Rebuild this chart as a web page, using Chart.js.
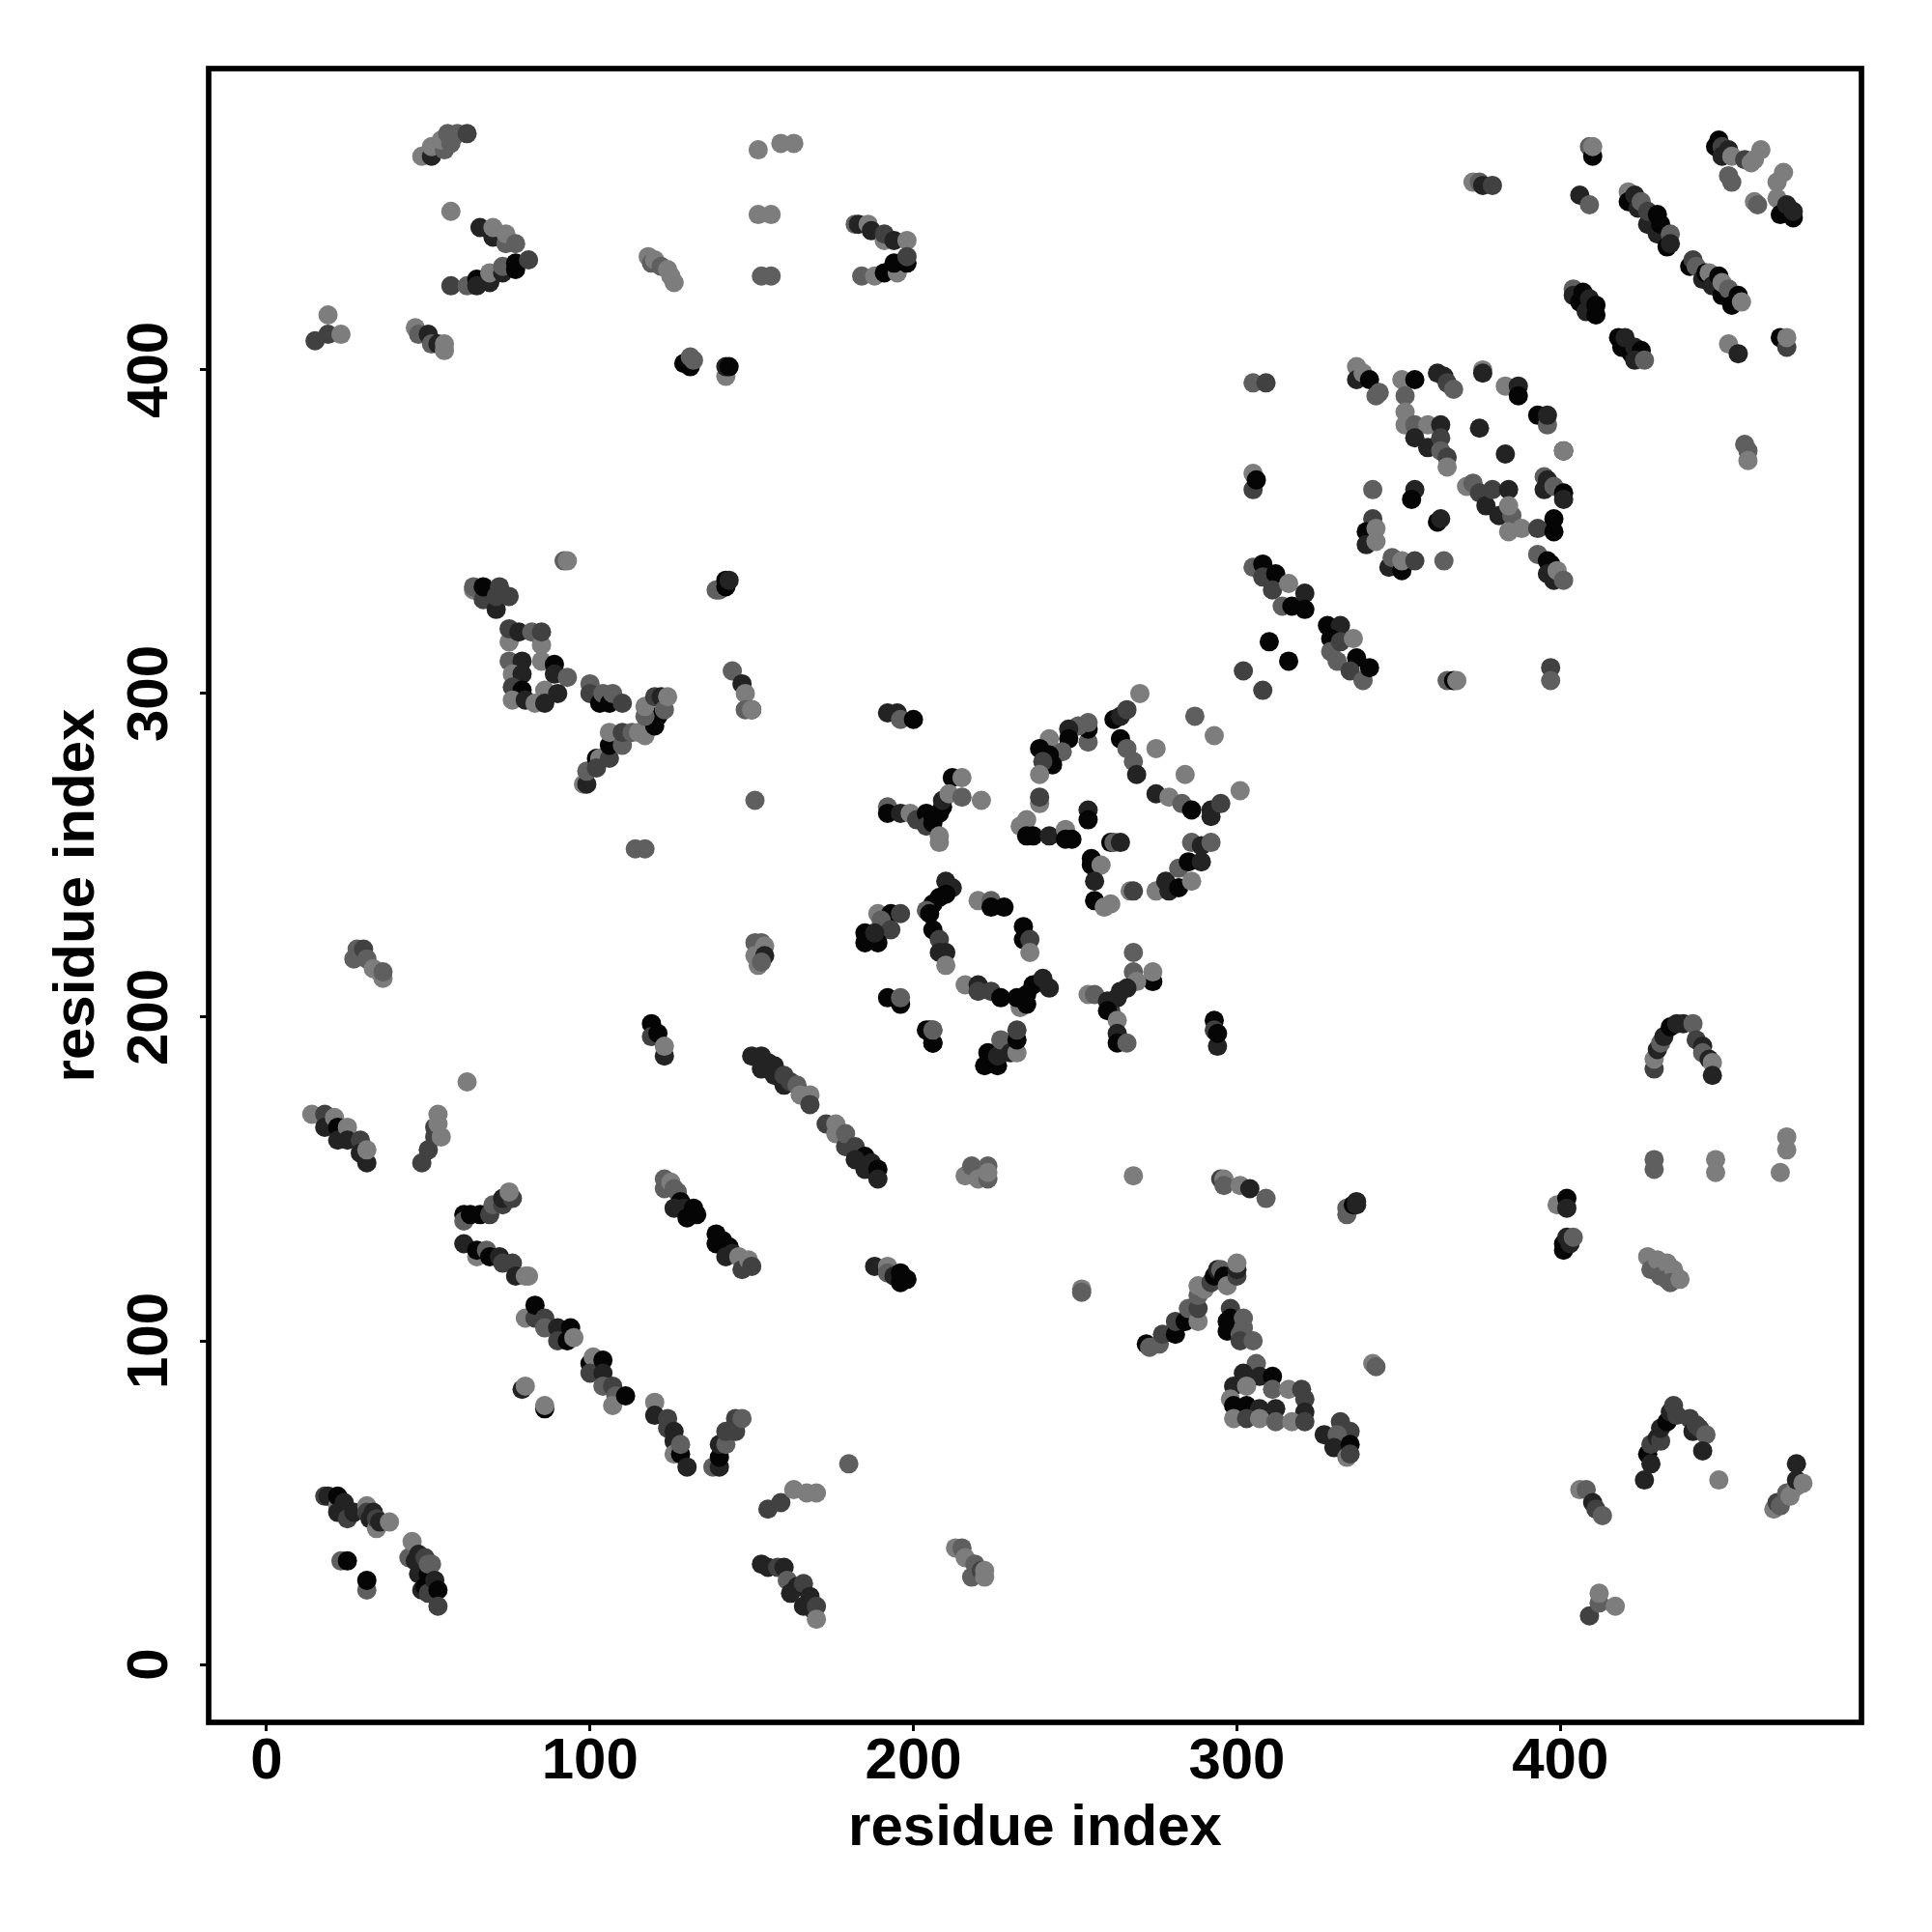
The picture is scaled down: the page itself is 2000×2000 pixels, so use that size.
<!DOCTYPE html>
<html>
<head>
<meta charset="utf-8">
<title>residue contacts</title>
<script src="https://cdn.jsdelivr.net/npm/chart.js@4"></script>
<style>
html, body { margin: 0; padding: 0; background: #fff; }
canvas { display: block; }
</style>
</head>
<body>
<canvas id="contactChart" width="2000" height="2000"></canvas>
<script>
// contacts are [residue x, residue y, level], level 0 (darkest) .. 4 (lightest)
const tickValues = [0, 100, 200, 300, 400];
const axisTitle = 'residue index';

// bottom row
const lowLeft = [[18,52,2],[19,52,1],[22,49,4],[22,52,0],[22,47,1],[24,50,1],[25,45,2],[27,47,1],[31,49,4],[31,47,2],[32,45,1],[33,47,1],[34,42,4],[34,45,2],[35,44,1],[38,44,4],
  [44,33,3],[45,38,4],[46,32,1],[47,34,1],[47,28,1],[48,23,1],[49,33,2],[49,24,0],[50,28,0],[50,22,2],[50,31,3],[51,31,3],[52,26,1],[53,23,0],[53,18,2],[23,32,3],[25,32,0],[31,23,3],[31,26,0]];
const lowMid = [[153,31,1],[155,30,1],[158,30,2],[160,30,1],[161,26,3],[162,22,1],[164,24,1],[166,25,2],[166,18,1],[168,21,1],[169,17,1],[170,18,2],[170,14,4],
  [155,48,2],[159,50,2],[163,54,4],[167,53,4],[170,53,4],[180,62,3],
  [213,36,4],[215,36,3],[216,33,4],[219,31,3],[218,27,3],[221,29,2],[222,27,4],[222,29,4]];
const lowRight = [[409,15,2],[412,19,3],[412,22,4],[417,18,4],[406,54,4],[408,54,3],[410,50,1],[411,48,2],[413,46,3],
  [426,57,1],[427,65,0],[428,62,1],[428,68,2],[430,70,1],[431,69,2],[431,73,1],[433,75,0],[434,78,1],[435,80,2],[436,77,2],[440,76,2],[441,72,1],[442,74,2],[443,73,2],[445,71,3],[444,66,1],[449,57,4],
  [466,48,4],[467,50,2],[468,49,3],[470,53,3],[471,52,4],[473,62,1],[473,55,4],[473,57,1],[475,56,4]];

// long strands running down from residue 60
const strandA = [[61,139,0],[61,137,3],[63,139,0],[66,139,0],[69,139,2],[70,142,3],[73,142,2],[73,144,1],[76,144,2],[75,146,4],
  [61,130,1],[65,126,4],[65,128,0],[68,128,3],[69,126,0],[72,126,1],[73,124,2],[76,124,2],[77,120,1],[80,120,4],[81,120,4],
  [80,107,4],[83,107,2],[83,111,0],[86,107,2],[86,104,3],[90,104,1],[90,100,2],[94,104,0],[93,100,0],[95,101,4],
  [100,93,0],[101,95,4],[100,90,2],[104,94,0],[104,90,1],[104,86,3],[107,86,2],[108,83,3],[107,80,4],[111,83,0]];
const strandB = [[120,81,4],[120,77,1],[124,76,2],[124,73,2],[126,72,1],[126,69,1],[126,65,4],[128,65,0],[128,68,3],[130,61,1],
  [138,61,3],[140,61,1],[140,64,0],[140,68,1],[142,68,3],[142,72,2],[145,72,2],[145,76,2],[147,76,3],
  [79,85,1],[80,86,4],[86,79,0],[86,80,4]];
const strandC = [[14,170,4],[18,170,2],[18,166,1],[21,169,4],[22,166,0],[22,162,1],[25,166,4],[25,162,1],[29,162,2],[29,158,1],[31,155,1],[31,159,4],
  [48,155,2],[50,159,2],[52,166,2],[52,163,2],[53,170,4],[53,167,4],[54,163,4],[62,180,4],
  [119,198,0],[119,194,2],[121,195,0],[123,188,1],[123,191,4]];
const strandD = [[150,188,1],[153,188,1],[153,184,1],[155,186,1],[157,185,1],[157,182,1],[160,179,1],[160,182,2],[162,180,2],[164,179,3],[165,176,4],[168,176,4],[168,173,2],
  [173,167,2],[176,167,4],[176,164,4],[179,160,2],[179,164,3],[182,160,2],[185,157,0],[182,156,1],[185,153,1],[187,155,1],[189,153,0],[189,150,1]];
const strandE = [[123,147,3],[123,150,3],[125,149,4],[126,147,3],[127,146,3],[128,143,0],[126,141,1],[129,141,1],[132,141,0],[130,138,0],[133,139,0],
  [139,133,0],[139,130,0],[141,131,0],[143,129,0],[142,126,1],[144,127,1],[146,126,4],[147,122,2],[149,125,4],[150,123,2],
  [188,123,1],[192,123,4],[192,121,3],[194,120,1],[196,121,0],[196,118,0],[198,119,0],
  [205,196,0],[206,192,0],[206,196,3]];

// scattered middle row
const midRow = [[216,151,4],[218,154,3],[220,150,4],[223,154,3],[223,150,3],[223,152,4],
  [268,151,4],[252,116,4],[252,115,3],[295,150,2],[296,150,4],[296,148,3],[301,148,4],[304,147,1],[309,144,3],
  [334,139,3],[334,141,3],[336,142,0],[337,143,1],[337,142,1],
  [399,142,4],[402,144,0],[402,141,1],[401,128,0],[401,130,0],[402,132,1],[403,130,1],[404,132,3],
  [431,122,1],[433,120,1],[427,126,4],[428,122,3],[430,125,4],[431,120,3],[433,124,4],[433,119,3],[435,122,4],[434,118,3],[437,119,4],
  [429,156,3],[429,153,3],[448,156,4],[448,152,4],[468,152,4],[470,163,4],[470,159,4],
  [429,184,2],[429,187,4],[430,190,1],[431,192,3],[432,194,1],[434,197,0],[436,198,1],[438,198,1],[441,198,3],[442,193,2],[444,191,1],[444,189,3],[446,187,1],[447,186,4],[447,182,1]];

// triangle and box around residue 300, y 65..125
const triangle = [[272,99,0],[273,98,3],[276,99,3],[277,102,2],[281,102,0],[281,106,2],[284,106,0],[285,110,3],[288,106,4],[288,110,2],[288,114,3],[288,117,4],[290,116,4],[292,118,2],[293,120,0],[294,122,1],[295,122,3],[296,120,0],[297,117,4],[300,120,2],[300,122,1],[300,124,4],
  [298,110,2],[297,106,0],[297,103,0],[298,107,0],[302,107,3],[302,104,3],[301,102,3],[301,100,2],[305,100,3]];
const contactBox = [[306,93,3],[302,90,1],[307,89,1],[311,89,0],[311,85,3],[299,86,1],[303,86,4],[316,85,4],[320,85,2],[321,82,2],[298,82,4],[299,80,0],[303,80,0],[307,79,1],[312,79,1],[321,78,1],
  [299,76,4],[303,76,2],[307,76,4],[312,75,3],[317,75,4],[321,75,2],
  [327,71,1],[332,75,2],[335,72,2],[331,71,3],[330,67,1],[335,68,0],[334,64,4],[335,65,2],[342,93,4],[343,92,3]];

// rings in the centre
const ringLeft = [[192,294,1],[195,294,1],[196,292,3],[200,292,0],
  [192,265,3],[192,263,0],[196,263,1],[199,263,4],[201,261,2],[204,263,0],[204,259,2],[206,262,0],[206,260,0],[208,263,0],[209,265,0],[209,267,1],[208,256,4],[208,254,4],
  [212,274,0],[215,274,4],[211,269,4],[215,268,3],[221,267,4]];
const ringLow = [[210,242,1],[212,240,1],[210,238,0],[208,237,0],[206,235,0],[204,233,3],[205,232,0],[206,227,0],[208,224,2],[208,220,1],[210,220,1],[210,216,4],
  [189,232,4],[193,232,0],[196,232,2],[190,230,3],[193,227,2],[185,226,0],[185,223,0],[189,223,0],[188,226,1],
  [220,236,4],[224,236,3],[224,234,0],[228,234,0],[234,228,0],[234,224,0],[236,224,2],[236,220,4],
  [216,210,4],[220,210,1],[220,208,2],[224,208,2],[227,206,0],[233,203,4],[232,206,0],[235,207,0],[235,204,0],[237,210,0],[240,212,1],[242,209,1],
  [192,206,0],[196,204,0],[196,206,3],[204,196,0],[206,192,0],[206,196,3],
  [223,189,0],[222,185,0],[226,185,0],[226,188,1],[227,193,3],[230,189,1],[232,189,4],[232,193,0],[232,196,2]];
const ringRight = [[268,220,3],[268,214,3],[274,211,0],[274,214,4],[269,211,4],[254,207,4],[256,207,3],[260,205,1],[261,202,2],[264,208,1],[266,209,1],[263,206,1],[260,202,0],[263,199,4],[263,195,1],[263,192,0],[266,192,3],
  [293,199,0],[293,196,2],[294,191,1],[294,195,0]];
const diamond = [[254,285,3],[254,289,0],[254,291,3],[251,290,3],[248,289,1],[248,286,0],[242,286,4],[246,282,3],[239,283,0],[242,281,0],[243,278,0],[240,279,2],[239,275,4],
  [239,266,4],[239,268,2],[233,259,4],[235,261,4],[235,256,0],[237,256,0],[242,256,1],[247,258,4],[247,255,0],[249,255,0],[254,264,1],[254,261,0],
  [255,249,0],[255,247,0],[258,247,4],[256,242,1],[256,236,0],[259,234,4],[261,235,4],
  [261,254,0],[262,254,3],[264,254,1],[267,239,4],[268,239,2],[275,239,4],[278,242,1],[279,239,1],[282,240,0],[282,246,3],[285,248,0],[286,242,4],[289,248,1],[286,254,3],[289,253,1],[292,254,3],
  [275,269,1],[279,268,4],[283,266,3],[286,264,0],[292,262,1],[292,264,1],[295,266,2],[301,270,4],
  [262,292,0],[264,293,1],[266,295,2],[264,286,0],[266,283,3],[268,279,3],[269,275,1],
  [270,300,4],[275,283,4],[287,293,3],[293,287,4],[284,275,4],[302,307,2],[308,301,2]];

// upper right block, y 300..405
const blockA = [[305,396,3],[309,396,2],[305,368,4],[305,363,2],[306,366,0],
  [305,339,3],[308,340,0],[308,336,2],[312,337,0],[311,332,2],[314,327,3],[317,327,0],[316,334,4],[321,331,1],[321,326,0],
  [310,316,0],[316,310,0],[328,321,0],[332,321,1],[329,317,0],[329,313,3],[332,316,2],[336,317,4],[331,310,3],[337,311,0],[335,307,2],[339,304,3],[341,308,0],
  [365,304,3],[367,304,0],[368,304,4],[397,308,2],[397,304,3]];
const blockB = [[337,401,4],[337,397,1],[339,399,4],[341,397,0],[343,392,3],[344,393,3],
  [351,397,4],[355,397,0],[352,392,3],[352,387,4],[352,383,4],[355,383,3],[359,383,4],[355,379,1],[359,376,1],[363,383,1],[363,379,2],[363,375,3],[365,373,2],[365,370,4],
  [362,399,1],[364,398,1],[365,396,2],[367,394,3],[376,400,4],[376,399,1],[383,395,4],[387,395,1],[387,392,0],
  [375,382,1],[383,374,1],[393,386,0],[396,383,3],[396,386,1],[401,375,0],[401,375,4]];
const blockC = [[342,363,3],[355,363,1],[354,360,0],[342,354,2],[340,350,0],[340,346,1],[343,351,4],[343,347,4],[362,353,0],[363,354,1],
  [347,339,1],[348,342,3],[351,338,0],[351,341,4],[355,341,2],[364,341,3],
  [371,364,4],[373,365,3],[375,362,2],[377,358,1],[379,363,2],[384,363,1],[381,355,1],[385,355,3],[384,358,4],[384,350,4],[388,351,4],[393,351,2],[398,350,0],[398,354,0],
  [395,367,3],[396,366,1],[395,363,1],[398,364,3],[401,362,0],[401,360,1],
  [393,343,3],[396,341,0],[397,340,0],[396,337,1],[398,335,1],[399,338,4],[401,335,3]];

// top row, right half
const topRight = [[373,458,4],[375,458,3],[376,457,1],[379,457,2],[409,469,3],[410,466,0],[410,469,4],[406,454,1],[409,451,3],
  [421,455,4],[421,452,0],[423,454,1],[424,450,1],[425,452,3],[427,445,1],[427,449,2],[430,448,0],[430,442,1],[431,445,0],[433,438,0],[434,442,3],[434,439,1],
  [440,432,0],[441,434,2],[442,432,3],[444,428,1],[445,430,0],[446,430,4],[447,426,1],[449,429,0],[450,423,0],[450,427,4],[452,425,3],[453,420,0],[455,423,0],[456,421,4],
  [404,425,3],[404,423,1],[406,421,0],[407,424,0],[408,418,1],[409,422,1],[411,420,0],[411,417,0],
  [418,410,0],[419,407,0],[420,410,1],[422,405,0],[423,407,1],[425,406,0],[423,403,1],[426,403,3]];
const topCorner = [[448,469,0],[449,471,0],[450,469,2],[452,468,1],[450,466,1],[453,466,4],[452,460,3],[453,458,3],[457,465,2],[459,464,4],[460,465,4],[462,468,4],
  [467,458,4],[469,461,4],[460,452,4],[461,451,3],[467,453,4],[468,448,0],[470,451,1],[472,447,0],[472,449,1],
  [452,408,4],[455,405,1],[468,410,0],[470,407,2],[470,410,4],[457,377,3],[458,375,3],[458,372,4]];

// top row, left half
const topLeft = [[48,466,4],[51,466,1],[51,469,4],[55,468,3],[54,471,4],[56,473,3],[57,470,3],[59,473,3],[62,473,2],[57,449,4],
  [66,444,1],[70,441,1],[70,444,4],[74,439,3],[74,442,4],[77,439,3],
  [57,426,2],[62,426,3],[65,428,0],[65,426,1],[69,427,1],[69,430,4],[73,430,1],[73,432,3],[77,431,0],[77,433,0],[81,434,2],
  [15,409,2],[19,411,2],[19,417,4],[23,411,4],[46,413,4],[47,411,3],[50,411,1],[51,408,3],[53,408,1],[55,408,4],[55,406,4],
  [118,435,4],[119,433,3],[120,434,4],[122,432,3],[124,431,4],[125,429,4],[126,427,4],
  [152,468,4],[159,470,4],[163,470,4],[152,448,4],[156,448,4],[153,429,3],[156,429,3],
  [182,445,3],[183,445,1],[186,445,4],[187,443,1],[191,440,4],[191,442,2],[194,440,1],[198,440,4],
  [184,429,3],[188,429,4],[191,430,0],[195,430,4],[194,433,0],[198,433,0],[198,435,2],
  [129,402,0],[131,401,0],[131,404,3],[132,403,3],[142,398,4],[142,401,1],[143,401,0]];

// left block, y 210..345
const leftBlock = [[92,341,3],[93,341,4],[64,332,4],[64,333,3],[67,329,2],[67,333,0],[71,326,1],[72,333,2],[71,330,2],[75,330,2],
  [75,316,4],[75,320,2],[78,319,1],[82,319,3],[85,315,4],[85,319,2],
  [75,310,3],[79,310,1],[85,310,4],[89,309,0],[76,306,4],[79,306,1],[89,306,1],[93,305,3],
  [76,302,2],[79,301,0],[86,301,4],[90,300,1],[76,298,4],[80,298,1],[83,297,4],[86,297,1]];
const rampBlock = [[100,303,3],[100,300,2],[103,297,0],[104,300,3],[106,297,0],[107,300,3],[110,297,2],
  [98,272,4],[99,272,1],[99,276,3],[102,280,0],[103,280,4],[102,277,2],[106,280,2],[106,284,0],[106,288,4],[110,284,3],[110,288,2],[113,288,3],[115,288,4],[117,287,4],
  [120,290,0],[121,293,0],[117,293,3],[117,296,4],[120,299,2],[122,299,1],[123,295,3],[124,299,4],
  [144,307,3],[147,303,1],[148,300,4],[150,295,1],[148,295,3],[150,295,4],[151,267,3],[114,252,3],[117,252,3],
  [139,332,3],[140,332,3],[142,333,0],[142,335,0],[143,335,1],
  [27,218,3],[28,221,3],[30,221,2],[31,218,3],[33,215,4],[35,214,4],[36,212,4],[36,214,3],
  [151,223,3],[153,223,3],[154,222,4],[151,219,4],[154,219,1],[152,216,4],[153,217,3]];

const contacts = [].concat(lowLeft, lowMid, lowRight, strandA, strandB, strandC, strandD, strandE, midRow,
  triangle, contactBox, ringLeft, ringLow, ringRight, diamond, blockA, blockB, blockC,
  topRight, topCorner, topLeft, leftBlock, rampBlock);

const shade = level => {
  const v = 5 + level * 30;
  return `rgb(${v},${v},${v})`;
};

const labelFont = { family: '"Liberation Sans", Arial, sans-serif', weight: 'bold', size: 60, lineHeight: 1 };

// frame round the plot area
const framePlugin = {
  id: 'frame',
  afterDraw(chart) {
    const { ctx, chartArea: a } = chart;
    ctx.save();
    ctx.strokeStyle = '#000';
    ctx.lineWidth = 5.7;
    ctx.strokeRect(a.left, a.top, a.right - a.left, a.bottom - a.top);
    ctx.restore();
  }
};

const axis = (position, size) => ({
  type: 'linear',
  position: position,
  min: -17.9,
  max: 493.1,
  afterBuildTicks: scale => { scale.ticks = tickValues.map(v => ({ value: v })); },
  afterFit: scale => {
    if (position === 'bottom') scale.height = size; else scale.width = size;
  },
  border: { display: false },
  grid: { drawOnChartArea: false, drawTicks: true, tickLength: 9, tickWidth: 3, tickColor: '#000' },
  title: {
    display: true,
    text: axisTitle,
    color: '#000',
    font: labelFont,
    padding: position === 'bottom' ? { top: 0, bottom: 77 } : { top: 50, bottom: 0 }
  }
});

const xAxis = axis('bottom', 217);
xAxis.ticks = { color: '#000', font: labelFont, padding: 2, maxRotation: 0, autoSkip: false };
const yAxis = axis('left', 216);
yAxis.ticks = { color: '#000', font: labelFont, padding: 0, minRotation: 90, maxRotation: 90, crossAlign: 'center', autoSkip: false };

new Chart(document.getElementById('contactChart').getContext('2d'), {
  type: 'scatter',
  data: {
    datasets: [{
      data: contacts.map(c => ({ x: c[0], y: c[1] })),
      showLine: false,
      pointRadius: 10,
      pointBorderWidth: 0,
      pointBackgroundColor: contacts.map(c => shade(c[2]))
    }]
  },
  options: {
    responsive: false,
    animation: false,
    layout: { padding: { left: 0, top: 71, right: 73, bottom: 0 } },
    plugins: { legend: { display: false }, tooltip: { enabled: false } },
    scales: { x: xAxis, y: yAxis }
  },
  plugins: [framePlugin]
});
</script>
</body>
</html>
